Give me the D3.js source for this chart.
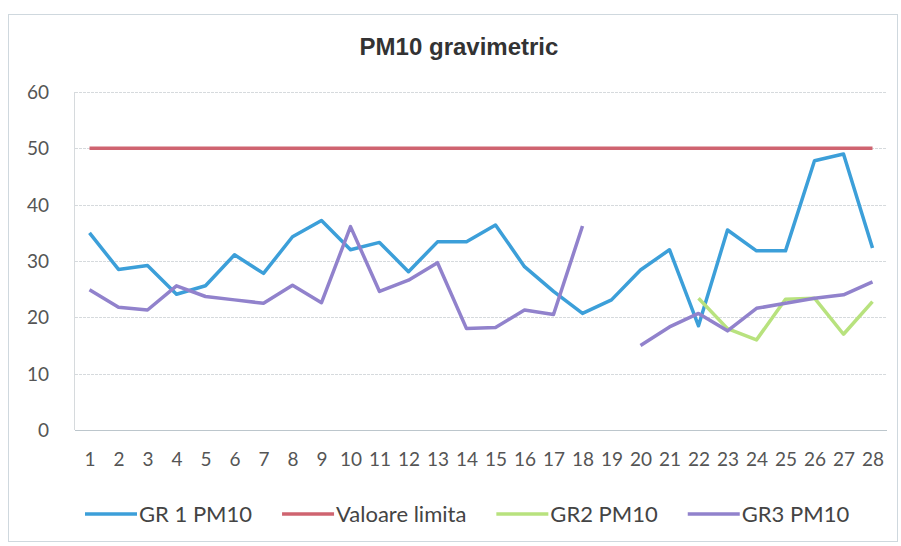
<!DOCTYPE html>
<html>
<head>
<meta charset="utf-8">
<script src="https://cdn.jsdelivr.net/npm/d3@7"></script>
<style>
  body { margin: 0; background: #fff; }
  svg { display: block; }
</style>
</head>
<body>
<div id="chart"></div>
<script>
var days = d3.range(1, 29).map(String);
var gr1 = [35, 28.5, 29.2, 24.1, 25.6, 31.1, 27.8, 34.3, 37.2, 32, 33.3, 28.1, 33.4, 33.4,
  36.4, 29, 24.6, 20.7, 23.1, 28.4, 32, 18.5, 35.5, 31.8, 31.8, 47.8, 49, 32.3];
var limit = days.map(function() { return 50; });
var gr2 = [null, null, null, null, null, null, null, null, null, null, null, null, null, null,
  null, null, null, null, null, null, null, 23.4, 18, 16, 23.2, 23.4, 17, 22.8];
var gr3 = [24.9, 21.8, 21.3, 25.6, 23.7, 23.1, 22.5, 25.7, 22.6, 36.1, 24.6, 26.6, 29.7, 18,
  18.2, 21.3, 20.5, 36.2, null, 15, 18.3, 20.7, 17.6, 21.6, 22.5, 23.4, 24, 26.3];
var yTicks = [0, 10, 20, 30, 40, 50, 60];

var seriesNames = ["GR 1 PM10", "Valoare limita", "GR2 PM10", "GR3 PM10"];
var seriesValues = [gr1, limit, gr2, gr3];
var colors = ["#3c9fd9", "#cf6470", "#b8e27e", "#9182cc"];

function plot() {
  var width = 901, height = 546;
  var left = 75, right = 887, top = 92, bottom = 430;

  var svg = d3.select("#chart").append("svg")
    .attr("width", width)
    .attr("height", height);

  // outer frame of the chart
  svg.append("rect")
    .attr("x", 8.5).attr("y", 14.5)
    .attr("width", 889).attr("height", 527)
    .attr("fill", "#fff")
    .attr("stroke", "#cfd8de");

  svg.append("text")
    .attr("x", 459).attr("y", 55)
    .attr("text-anchor", "middle")
    .style("font-family", "'Liberation Sans', Arial, sans-serif")
    .style("font-weight", "bold")
    .style("font-size", "24px")
    .attr("fill", "#333")
    .text("PM10 gravimetric");

  var x = d3.scalePoint()
    .domain(days)
    .range([left, right])
    .padding(0.5);

  var y = d3.scaleLinear()
    .domain([0, 60])
    .range([bottom, top]);

  // gridlines
  svg.append("g")
    .selectAll("line")
    .data(yTicks)
    .enter().append("line")
    .attr("x1", left).attr("x2", right)
    .attr("y1", function(d) { return Math.round(y(d)) + 0.5; })
    .attr("y2", function(d) { return Math.round(y(d)) + 0.5; })
    .attr("stroke", function(d) { return d === 0 ? "#bcc6cc" : "#d6dadd"; })
    .attr("stroke-dasharray", function(d) { return d === 0 ? null : "3,1"; });

  svg.append("line")
    .attr("x1", left - 0.5).attr("x2", left - 0.5)
    .attr("y1", top).attr("y2", bottom)
    .attr("stroke", "#d6dadd");

  var yAxis = svg.append("g")
    .attr("transform", "translate(" + (left - 26) + ",0)")
    .call(d3.axisLeft(y).tickValues(yTicks).tickSize(0).tickPadding(0));
  yAxis.select(".domain").remove();

  var xAxis = svg.append("g")
    .attr("transform", "translate(0," + (bottom + 23) + ")")
    .call(d3.axisBottom(x).tickSize(0).tickPadding(0));
  xAxis.select(".domain").remove();

  svg.selectAll(".tick text")
    .style("font-family", "Lato, 'Open Sans', sans-serif")
    .style("font-size", "19px")
    .attr("fill", "#555");
  yAxis.selectAll(".tick text").attr("dy", "0.35em");
  xAxis.selectAll(".tick text").attr("dy", "0.7em");

  var line = d3.line()
    .defined(function(d) { return d != null; })
    .x(function(d, i) { return x(days[i]); })
    .y(function(d) { return y(d); });

  svg.append("g")
    .selectAll("path")
    .data(seriesValues)
    .enter().append("path")
    .attr("d", line)
    .attr("fill", "none")
    .attr("stroke", function(d, i) { return colors[i]; })
    .attr("stroke-width", 3.5)
    .attr("stroke-linejoin", "round");

  // legend
  var legend = svg.append("g").attr("transform", "translate(85,514)");
  var lx = 0;
  seriesNames.forEach(function(name, i) {
    var item = legend.append("g").attr("transform", "translate(" + lx + ",0)");
    item.append("line")
      .attr("x1", 0).attr("x2", 52)
      .attr("stroke", colors[i])
      .attr("stroke-width", 3.5);
    var t = item.append("text")
      .attr("x", 54)
      .attr("dy", "0.35em")
      .style("font-family", "Lato, 'Open Sans', sans-serif")
      .style("font-size", "22px")
      .attr("fill", "#444")
      .text(name);
    lx += 54 + t.node().getComputedTextLength() + 30;
  });
}

document.addEventListener("DOMContentLoaded", function() {
  plot();
});
</script>
</body>
</html>
